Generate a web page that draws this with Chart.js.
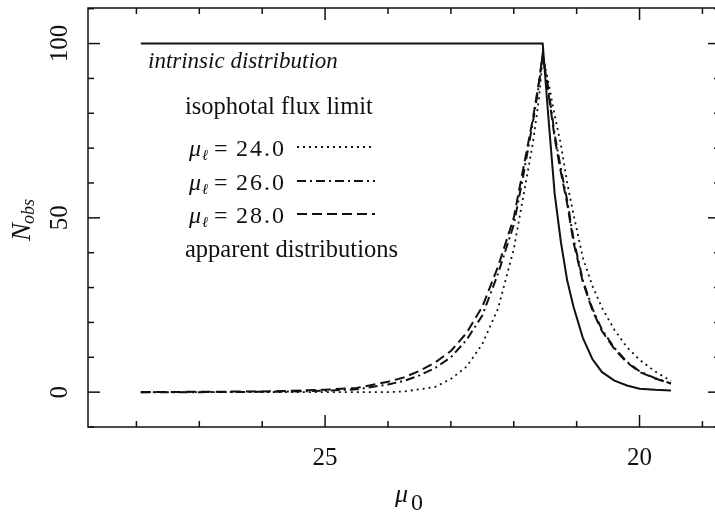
<!DOCTYPE html>
<html>
<head>
<meta charset="utf-8">
<script src="https://cdn.jsdelivr.net/npm/chart.js@4"></script>
<style>
html, body { margin: 0; padding: 0; background: #fff; }
</style>
</head>
<body>
<canvas id="chart" width="715" height="514"></canvas>
<script>
// ============ Data ============
// surface brightness grid (mu_0), shared by every curve
const mu = [27.93, 27, 26, 25.5, 25, 24.5, 24, 23.75, 23.5, 23.25, 23, 22.75, 22.5, 22.25, 22,
            21.85, 21.7, 21.6, 21.54, 21.45, 21.35, 21.25, 21.15, 21.05, 20.9, 20.75, 20.6,
            20.4, 20.2, 20, 19.75, 19.5];

const intrinsic = [100, 100, 100, 100, 100, 100, 100, 100, 100, 100, 100, 100, 100, 100, 100,
                   100, 100, 100, 100, 79, 57, 43, 32, 24.5, 15.5, 9.5, 5.8,
                   3.3, 1.9, 1.0, 0.7, 0.5];

const limit24 = [0, 0, 0, 0, 0, 0, 0, 0.2, 0.8, 1.5, 3.8, 7.3, 13.8, 24, 41,
                 56, 71, 84, 96, 89, 79.5, 71, 60, 51, 38.5, 30.5, 24.3,
                 17.9, 12.9, 9.3, 5.9, 3.2];

const limit26 = [0, 0, 0.1, 0.2, 0.4, 0.8, 2.2, 3.2, 4.8, 6.9, 10, 15, 22, 34, 48,
                 62, 77, 88, 97, 87, 74, 64, 55, 44, 32, 24, 18,
                 12.7, 8.7, 6.0, 4.0, 2.5];

const limit28 = [0, 0.1, 0.2, 0.4, 0.7, 1.2, 3.0, 4.2, 6.1, 8.5, 11.8, 17, 24.5, 36, 50,
                 64, 78, 89, 97, 86, 73, 63, 54, 43, 31.5, 23.5, 17.6,
                 12.4, 8.5, 5.8, 3.9, 2.5];

const xTickLabels = ['25', '20'];
const yTickLabels = ['0', '50', '100'];
const limitLabels = ['24.0', '26.0', '28.0'];

// ============ Style ============
const INK = '#111';
const SERIF = '"Liberation Serif", "Times New Roman", serif';
const DASHES = {
    dotted: [2, 4],
    dashDot: [9, 4, 2, 4],
    dashed: [10, 5]
};

function points(values) {
    return mu.map((m, i) => ({ x: m, y: values[i] }));
}

function series(label, values, dash, width) {
    return {
        label: label,
        data: points(values),
        borderColor: INK,
        borderWidth: width,
        borderDash: dash,
        pointRadius: 0,
        fill: false,
        tension: 0
    };
}

// ============ Frame, ticks, labels ============
const decorPlugin = {
    id: 'decor',
    afterDraw(chart) {
        const { ctx, chartArea: a, scales: { x, y } } = chart;
        const right = a.right + 5;   // frame's right edge sits just past the canvas
        ctx.save();
        ctx.strokeStyle = INK;
        ctx.fillStyle = INK;
        ctx.lineWidth = 1.5;

        // box
        ctx.beginPath();
        ctx.moveTo(right, a.top);
        ctx.lineTo(a.left, a.top);
        ctx.lineTo(a.left, a.bottom);
        ctx.lineTo(right, a.bottom);
        ctx.stroke();

        // inward ticks on all sides
        const seg = (x1, y1, x2, y2) => {
            ctx.beginPath(); ctx.moveTo(x1, y1); ctx.lineTo(x2, y2); ctx.stroke();
        };
        for (let v = 19; v <= 28; v++) {
            const px = x.getPixelForValue(v);
            const len = v % 5 === 0 ? 12 : 6;
            seg(px, a.bottom, px, a.bottom - len);
            seg(px, a.top, px, a.top + len);
        }
        for (let v = -10; v <= 110; v += 10) {
            const py = y.getPixelForValue(v);
            const len = v % 50 === 0 ? 12 : 6;
            seg(a.left, py, a.left + len, py);
            seg(right, py, right - len, py);
        }

        // x tick labels
        ctx.font = '25px ' + SERIF;
        ctx.textAlign = 'center';
        ctx.textBaseline = 'alphabetic';
        xTickLabels.forEach(t => {
            ctx.fillText(t, x.getPixelForValue(Number(t)), 465);
        });

        // rotated y tick labels
        yTickLabels.forEach(t => {
            ctx.save();
            ctx.translate(67, y.getPixelForValue(Number(t)));
            ctx.rotate(-Math.PI / 2);
            ctx.fillText(t, 0, 0);
            ctx.restore();
        });

        // y title: N_obs
        ctx.save();
        ctx.translate(30, 241);
        ctx.rotate(-Math.PI / 2);
        ctx.textAlign = 'left';
        ctx.font = 'italic 27px ' + SERIF;
        ctx.fillText('N', 0, 0);
        const nW = ctx.measureText('N').width;
        ctx.font = 'italic 18px ' + SERIF;
        ctx.fillText('obs', nW - 1, 4);
        ctx.restore();

        // x title: mu_0
        ctx.textAlign = 'left';
        ctx.font = 'italic 26px ' + SERIF;
        ctx.fillText('μ', 395, 502);
        ctx.font = '24px ' + SERIF;
        ctx.fillText('0', 411, 510);

        // in-plot annotations
        ctx.font = 'italic 23px ' + SERIF;
        ctx.fillText('intrinsic distribution', 148, 68);
        ctx.font = '24.5px ' + SERIF;
        ctx.fillText('isophotal flux limit', 185, 114);
        ctx.fillText('apparent distributions', 185, 257);

        const rows = [
            { base: 156, dash: DASHES.dotted, width: 1.8 },
            { base: 190, dash: DASHES.dashDot, width: 2 },
            { base: 223, dash: DASHES.dashed, width: 2 }
        ];
        rows.forEach((r, i) => {
            ctx.font = 'italic 24px ' + SERIF;
            ctx.fillText('μ', 189, r.base);
            ctx.font = 'italic 15px ' + SERIF;
            ctx.fillText('ℓ', 202, r.base + 4);
            ctx.font = '24px ' + SERIF;
            ctx.fillText('=', 214, r.base);
            ctx.letterSpacing = '2px';
            ctx.fillText(limitLabels[i], 236, r.base);
            ctx.letterSpacing = '0px';
            ctx.setLineDash(r.dash);
            ctx.lineWidth = r.width;
            seg(297, r.base - 9, 375, r.base - 9);
            ctx.setLineDash([]);
        });
        ctx.restore();
    }
};

// ============ Chart ============
new Chart(document.getElementById('chart'), {
    type: 'line',
    data: {
        datasets: [
            series('intrinsic distribution', intrinsic, [], 2),
            series('μℓ = 24.0', limit24, DASHES.dotted, 1.8),
            series('μℓ = 26.0', limit26, DASHES.dashDot, 2),
            series('μℓ = 28.0', limit28, DASHES.dashed, 2)
        ]
    },
    options: {
        responsive: false,
        animation: false,
        devicePixelRatio: 1,
        layout: { autoPadding: false, padding: { left: 88, top: 8, right: 0, bottom: 87 } },
        plugins: { legend: { display: false }, tooltip: { enabled: false } },
        scales: {
            x: {
                type: 'linear',
                reverse: true,
                min: 18.80,
                max: 28.77,
                grid: { display: false, drawTicks: false },
                border: { display: false },
                ticks: { display: false }
            },
            y: {
                type: 'linear',
                min: -10,
                max: 110.2,
                grid: { display: false, drawTicks: false },
                border: { display: false },
                ticks: { display: false }
            }
        }
    },
    plugins: [decorPlugin]
});
</script>
</body>
</html>
